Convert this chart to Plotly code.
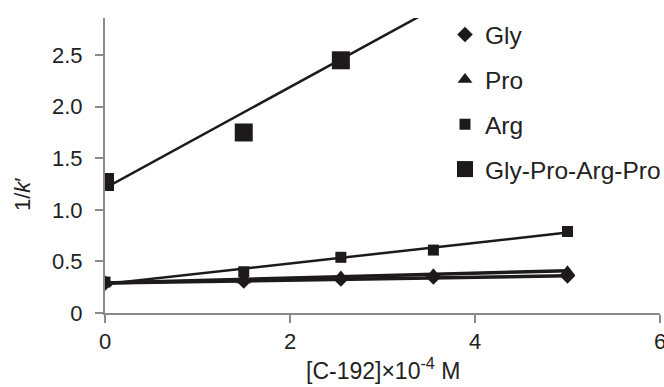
import plotly.graph_objects as go

# ---- data ----
conc = [0, 1.5, 2.55, 3.55, 5.0]
gly = [0.29, 0.31, 0.33, 0.35, 0.36]
pro = [0.29, 0.32, 0.35, 0.37, 0.40]
arg = [0.30, 0.40, 0.54, 0.61, 0.79]
gpap_conc = [0, 1.5, 2.55]
gpap = [1.27, 1.75, 2.45]

# trendline parameters (intercept, slope) and fit extent
gly_fit = (0.29, 0.014)
pro_fit = (0.29, 0.024)
arg_fit = (0.28, 0.100)
gpap_fit = (1.21, 0.49)
fit_x = [0, 5.0]

names = ["Gly", "Pro", "Arg", "Gly-Pro-Arg-Pro"]
y_tickvals = [0, 0.5, 1.0, 1.5, 2.0, 2.5]
y_ticktext = ["0", "0.5", "1.0", "1.5", "2.0", "2.5"]
x_tickvals = [0, 2, 4, 6]
x_ticktext = ["0", "2", "4", "6"]

FONT = "Liberation Sans, Arial, Helvetica, sans-serif"
BLACK = "#1e1a1b"
TXT = "#222"

fig = go.Figure()

def fit_line(params):
    a, b = params
    return [a + b * x for x in fit_x]

# trendlines (no legend)
for params, w in [(gly_fit, 3.5), (pro_fit, 3.5), (arg_fit, 2.5), (gpap_fit, 2.5)]:
    fig.add_trace(go.Scatter(x=fit_x, y=fit_line(params), mode="lines",
                             line=dict(color=BLACK, width=w),
                             showlegend=False, hoverinfo="skip"))

series = [
    (conc, gly, "diamond", 12),
    (conc, pro, "triangle-up", 13),
    (conc, arg, "square", 11),
    (gpap_conc, gpap, "square", 18),
]
for i, (xs, ys, sym, sz) in enumerate(series):
    fig.add_trace(go.Scatter(x=xs, y=ys, mode="markers", name=names[i],
                             legendgroup=names[i],
                             marker=dict(symbol=sym, size=sz, color=BLACK,
                                         line=dict(width=0))))

axis_common = dict(showgrid=False, zeroline=False, showline=True,
                   linecolor="#8a8a8a", linewidth=2, ticks="outside",
                   ticklen=8, tickwidth=2, tickcolor="#8a8a8a",
                   automargin=False, ticklabeloverflow="allow",
                   tickfont=dict(family=FONT, size=22, color=TXT))

fig.update_xaxes(range=[0, 6], tickvals=x_tickvals, ticktext=x_ticktext,
                 **axis_common)
fig.update_yaxes(range=[0, 2.86], tickvals=y_tickvals, ticktext=y_ticktext,
                 ticklabelstandoff=8, **axis_common)

fig.add_annotation(text="[C-192]×10<sup>-4</sup> M", xref="paper", yref="paper",
                   x=0.5, y=-0.19, yanchor="middle", xanchor="center",
                   showarrow=False,
                   font=dict(family=FONT, size=23, color=TXT))
fig.add_annotation(text="1/<i>k</i>′", xref="paper", yref="paper",
                   x=-0.1495, y=0.40, textangle=-90, showarrow=False,
                   xanchor="center", yanchor="middle",
                   font=dict(family=FONT, size=22, color=TXT))

fig.update_layout(
    width=664, height=387,
    margin=dict(l=105, r=4, t=18, b=74, autoexpand=False),
    paper_bgcolor="white", plot_bgcolor="white",
    showlegend=True,
    legend=dict(x=0.6126, y=1.02, xanchor="left", yanchor="top",
                font=dict(family=FONT, size=24.5, color=TXT),
                tracegroupgap=10, bgcolor="rgba(0,0,0,0)",
                itemsizing="trace"),
)

fig.write_html("out.html")
